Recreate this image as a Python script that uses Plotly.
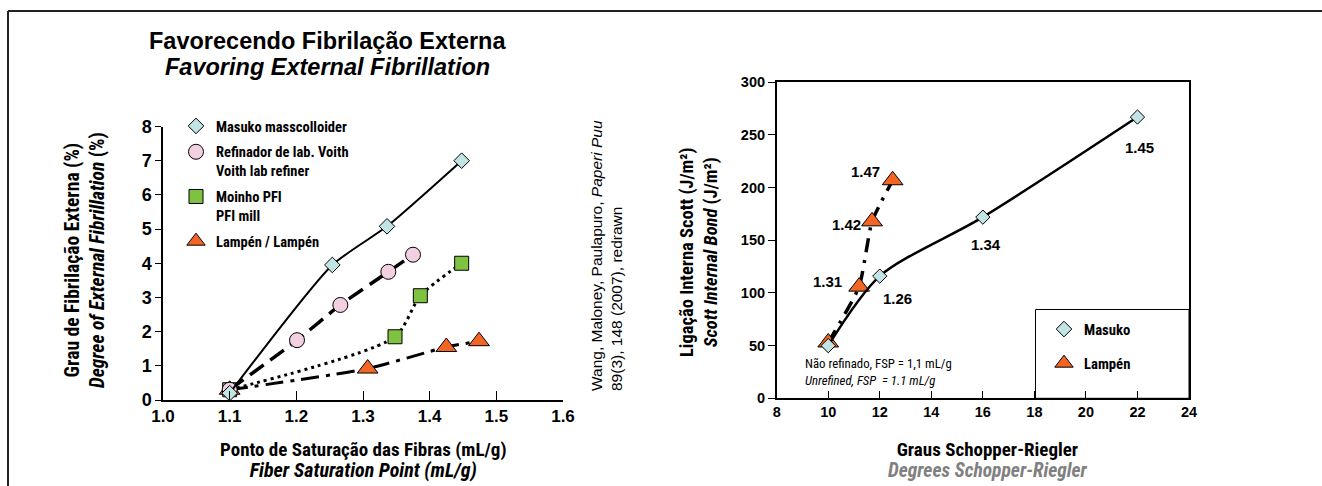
import plotly.graph_objects as go

W, H = 1322, 486
def px(x):
    return x / W
def py(y):
    return (H - y) / H

COND = "Roboto Condensed, Liberation Sans Narrow, DejaVu Sans Condensed, Arial Narrow, sans-serif"
SANS = "Liberation Sans, Arial, Helvetica, sans-serif"

# ---------------- Left chart data (FSP vs external fibrillation) ----------------
fsp_masuko = [1.10, 1.254, 1.336, 1.448]
fib_masuko = [0.2, 3.95, 5.08, 7.0]
fsp_voith = [1.10, 1.201, 1.266, 1.338, 1.375]
fib_voith = [0.3, 1.75, 2.78, 3.75, 4.25]
fsp_pfi = [1.10, 1.348, 1.386, 1.448]
fib_pfi = [0.3, 1.85, 3.05, 4.0]
fsp_lampen = [1.10, 1.307, 1.425, 1.474]
fib_lampen = [0.3, 0.92, 1.55, 1.72]

left_x_ticks = [1.0, 1.1, 1.2, 1.3, 1.4, 1.5, 1.6]
left_y_ticks = [0, 1, 2, 3, 4, 5, 6, 7, 8]

# ---------------- Right chart data (SR vs Scott bond) ----------------
sr_masuko = [10, 12, 16, 22]
bond_masuko = [50, 116, 172, 267]
fsp_lbl_masuko = ["", "1.26", "1.34", "1.45"]
sr_lampen = [10, 11.2, 11.7, 12.5]
bond_lampen = [53, 106, 168, 207]
fsp_lbl_lampen = ["", "1.31", "1.42", "1.47"]

right_x_ticks = [8, 10, 12, 14, 16, 18, 20, 22, 24]
right_y_ticks = [0, 50, 100, 150, 200, 250, 300]

C_DIAMOND = "#c2e4e4"
C_CIRCLE = "#f3cfe2"
C_SQUARE = "#7fc241"
C_TRI = "#f26522"
MLINE = dict(color="black", width=1)

fig = go.Figure()

# left series
fig.add_trace(go.Scatter(x=fsp_lampen, y=fib_lampen, mode="lines+markers", showlegend=False,
                         line=dict(color="black", width=3, dash="18px,7px,4px,7px", shape="spline", smoothing=0.6),
                         marker=dict(symbol="triangle-up", size=18, color=C_TRI, line=MLINE),
                         xaxis="x", yaxis="y"))
fig.add_trace(go.Scatter(x=fsp_pfi, y=fib_pfi, mode="lines+markers", showlegend=False,
                         line=dict(color="black", width=3, dash="3px,4px", shape="spline", smoothing=0.7),
                         marker=dict(symbol="square", size=14, color=C_SQUARE, line=MLINE),
                         xaxis="x", yaxis="y"))
fig.add_trace(go.Scatter(x=fsp_voith, y=fib_voith, mode="lines+markers", showlegend=False,
                         line=dict(color="black", width=3.5, dash="17px,8px", shape="spline", smoothing=0.6),
                         marker=dict(symbol="circle", size=15, color=C_CIRCLE, line=MLINE),
                         xaxis="x", yaxis="y"))
fig.add_trace(go.Scatter(x=fsp_masuko, y=fib_masuko, mode="lines+markers", showlegend=False,
                         line=dict(color="black", width=2, shape="spline", smoothing=0.6),
                         marker=dict(symbol="diamond", size=12, color=C_DIAMOND, line=MLINE),
                         xaxis="x", yaxis="y"))

# left legend entries
leg_left = [
    ("Masuko masscolloider", "diamond", 12, C_DIAMOND),
    ("Refinador de lab. Voith<br>Voith lab refiner", "circle", 15, C_CIRCLE),
    ("Moinho PFI<br>PFI mill", "square", 14, C_SQUARE),
    ("Lampén / Lampén", "triangle-up", 18, C_TRI),
]
for i, (name, sym, sz, col) in enumerate(leg_left):
    fig.add_trace(go.Scatter(x=[None], y=[None], mode="markers", name=name, legend="legend",
                             legendgroup="l%d" % i,
                             marker=dict(symbol=sym, size=sz, color=col, line=MLINE),
                             xaxis="x", yaxis="y"))

# right series
fig.add_trace(go.Scatter(x=sr_lampen, y=bond_lampen, mode="lines+markers", showlegend=False,
                         line=dict(color="black", width=3.5, dash="14px,8px,3px,8px", shape="spline", smoothing=0.5),
                         marker=dict(symbol="triangle-up", size=18, color=C_TRI, line=MLINE),
                         xaxis="x2", yaxis="y2"))
fig.add_trace(go.Scatter(x=sr_masuko, y=bond_masuko, mode="lines+markers", showlegend=False,
                         line=dict(color="black", width=2.5, shape="spline", smoothing=0.8),
                         marker=dict(symbol="diamond", size=11, color=C_DIAMOND, line=MLINE),
                         xaxis="x2", yaxis="y2"))
for i, (name, sym, sz, col) in enumerate([("Masuko", "diamond", 12, C_DIAMOND), ("Lampén", "triangle-up", 18, C_TRI)]):
    fig.add_trace(go.Scatter(x=[None], y=[None], mode="markers", name=name, legend="legend2",
                             legendgroup="r%d" % i,
                             marker=dict(symbol=sym, size=sz, color=col, line=MLINE),
                             xaxis="x2", yaxis="y2"))

annotations = []
# point labels (FSP) on right chart
lamp_shift = [(0, 0), (-32, 5), (-26, -3), (-27, 9)]
masu_shift = [(0, 0), (18, -22), (3, -27), (2, -30)]
for xv, yv, t, (dx, dy) in zip(sr_lampen, bond_lampen, fsp_lbl_lampen, lamp_shift):
    if t:
        annotations.append(dict(x=xv, y=yv, xref="x2", yref="y2", text="<b>%s</b>" % t, showarrow=False,
                                xanchor="center", yanchor="middle",
                                xshift=dx, yshift=dy, font=dict(family=SANS, size=15, color="black")))
for xv, yv, t, (dx, dy) in zip(sr_masuko, bond_masuko, fsp_lbl_masuko, masu_shift):
    if t:
        annotations.append(dict(x=xv, y=yv, xref="x2", yref="y2", text="<b>%s</b>" % t, showarrow=False,
                                xanchor="center", yanchor="middle",
                                xshift=dx, yshift=dy, font=dict(family=SANS, size=15, color="black")))


def note(xp, yp, text, family, size, color="black", angle=0, align="center", xanchor="center"):
    return dict(x=px(xp), y=py(yp), xref="paper", yref="paper", showarrow=False, textangle=angle,
                xanchor=xanchor, yanchor="middle", align=align, text=text,
                font=dict(family=family, size=size, color=color))


annotations += [
    note(327, 41, "<b>Favorecendo Fibrilação Externa</b>", SANS, 23.5),
    note(327, 67, "<b><i>Favoring External Fibrillation</i></b>", SANS, 23.5),
    note(85, 260, "<b>Grau de Fibrilação Externa (%)</b><br><b><i>Degree of External Fibrillation</i> (%)</b>",
         COND, 19.5, angle=-90),
    note(363, 459.5,
         "<span style='font-size:19px'><b>Ponto de Saturação das Fibras (mL/g)</b></span><br>"
         "<span style='font-size:20px'><b><i>Fiber Saturation Point (mL/g)</i></b></span>",
         COND, 16.5),
    note(606.5, 255.5, "Wang, Maloney, Paulapuro, <i>Paperi Puu</i><br>89(3), 148 (2007), redrawn",
         SANS, 15.5, angle=-90, align="left"),
    note(699, 252, "<b>Ligação Interna Scott (J/m²)</b><br><b><i>Scott Internal Bond</i> (J/m²)</b>",
         COND, 18.5, angle=-90),
    note(988, 459.5,
         "<span style='font-size:19px'><b>Graus Schopper-Riegler</b></span><br>"
         "<span style='font-size:19.5px;color:#808080'><b><i>Degrees Schopper-Riegler</i></b></span>",
         COND, 16.5),
    note(803, 372, "Não refinado, FSP = 1,1 mL/g<br><i>Unrefined, FSP  = 1.1 mL/g</i>", COND, 12.8,
         align="left", xanchor="left"),
]

shapes = [
    dict(type="line", xref="paper", yref="paper", x0=px(8), x1=1, y0=py(11), y1=py(11),
         line=dict(color="#222222", width=2)),
    dict(type="line", xref="paper", yref="paper", x0=px(8), x1=px(8), y0=py(11), y1=0,
         line=dict(color="#222222", width=2)),
    dict(type="rect", xref="paper", yref="paper", x0=px(1035.5), x1=px(1189), y0=py(309.5), y1=py(398.3),
         line=dict(color="black", width=1), fillcolor="white", layer="below"),
]

fig.update_layout(
    width=W, height=H, margin=dict(l=0, r=0, t=0, b=0, autoexpand=False),
    paper_bgcolor="white", plot_bgcolor="rgba(0,0,0,0)",
    annotations=annotations, shapes=shapes,
    xaxis=dict(domain=[px(163), px(563)], range=[1.0, 1.6], tickvals=left_x_ticks,
               ticktext=["%.1f" % v for v in left_x_ticks],
               showgrid=False, zeroline=False, showline=True, linecolor="black", linewidth=1.5,
               ticks="inside", ticklen=9, tickcolor="black", tickwidth=1, automargin=False,
               tickfont=dict(family=SANS, size=17, color="black", weight="bold"), anchor="y"),
    yaxis=dict(domain=[py(400), py(126.5)], range=[0, 8], tickvals=left_y_ticks,
               showgrid=False, zeroline=False, showline=True, linecolor="black", linewidth=1.5,
               ticks="outside", ticklen=6, tickcolor="black", tickwidth=1, automargin=False,
               tickfont=dict(family=SANS, size=18, color="black", weight="bold"), anchor="x"),
    xaxis2=dict(domain=[px(776.7), px(1189)], range=[8, 24], tickvals=right_x_ticks,
                showgrid=False, zeroline=False, showline=True, linecolor="black", linewidth=1.5, mirror=True,
                ticks="inside", ticklen=8, tickcolor="black", tickwidth=1, automargin=False,
                tickfont=dict(family=SANS, size=14.5, color="black", weight="bold"), anchor="y2"),
    yaxis2=dict(domain=[py(398.3), py(82.3)], range=[0, 300], tickvals=right_y_ticks,
                showgrid=False, zeroline=False, showline=True, linecolor="black", linewidth=1.5, mirror=True,
                ticks="outside", ticklen=7, tickcolor="black", tickwidth=1, automargin=False,
                tickfont=dict(family=SANS, size=14.5, color="black", weight="bold"), anchor="x2"),
    legend=dict(x=px(176), y=py(110), xanchor="left", yanchor="top", bgcolor="rgba(0,0,0,0)",
                valign="top", tracegroupgap=4,
                font=dict(family=COND, size=14.5, color="black", weight="bold")),
    legend2=dict(x=px(1044), y=py(313), xanchor="left", yanchor="top", bgcolor="rgba(0,0,0,0)",
                 tracegroupgap=12,
                 font=dict(family=COND, size=14.7, color="black", weight="bold")),
)

fig.write_html("out.html")
